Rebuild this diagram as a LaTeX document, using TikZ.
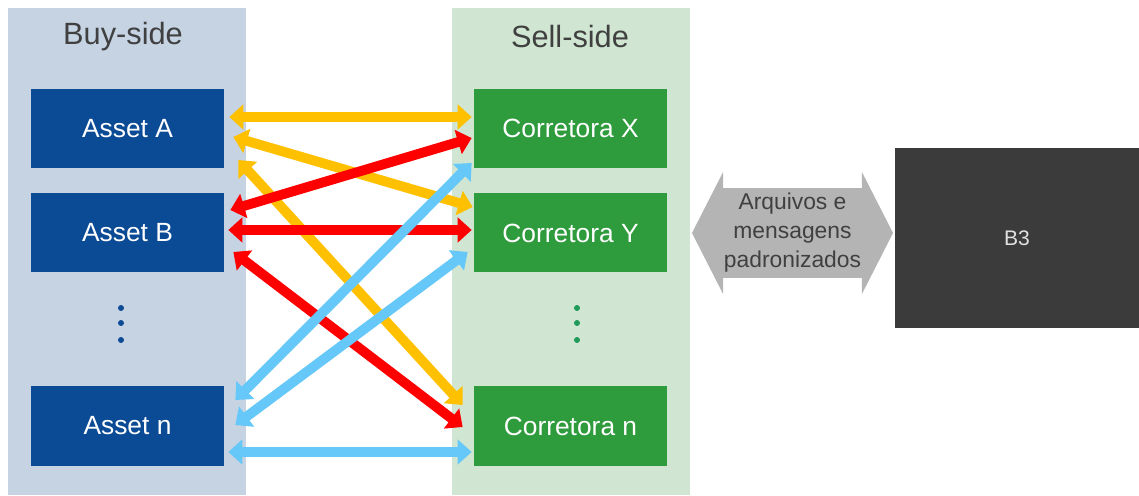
\documentclass[tikz,border=0pt]{standalone}
\usepackage{fontspec}
\setmainfont{Liberation Sans}
\usetikzlibrary{arrows.meta, shapes.arrows}

\definecolor{buybg}{HTML}{C5D3E3}
\definecolor{sellbg}{HTML}{D0E6D2}
\definecolor{assetblue}{HTML}{0B4A94}
\definecolor{brokergreen}{HTML}{2E9B3C}
\definecolor{dotgreen}{HTML}{1F9A5A}
\definecolor{linkyellow}{HTML}{FFC000}
\definecolor{linkred}{HTML}{FF0000}
\definecolor{linkblue}{HTML}{66C8F8}
\definecolor{labelgray}{HTML}{404040}
\definecolor{msggray}{HTML}{B4B4B4}
\definecolor{bthreegray}{HTML}{3B3B3B}

\begin{document}
\begin{tikzpicture}[
    asset/.style={fill=assetblue, text=white, minimum width=3.86cm, minimum height=1.58cm, font=\fontsize{15}{18}\selectfont},
    broker/.style={asset, fill=brokergreen},
    link/.style={line width=5.6pt, {Triangle[length=8pt,width=14pt]}-{Triangle[length=8pt,width=14pt]}},
    side/.style={text=labelgray, font=\fontsize{17.5}{21}\selectfont}
]
    \useasboundingbox (0,0) rectangle (22.78,9.9);
    \fill[buybg] (0.16,0) rectangle (4.92,9.74);
    \fill[sellbg] (9.04,0) rectangle (13.8,9.74);
    \node[side] (buy) at (2.46,9.16) {Buy-side};
    \node[side] (sell) at (11.4,9.16) {Sell-side};

    \node[asset] (assetA) at (2.55,7.33) {Asset A};
    \node[asset] (assetB) at (2.55,5.24) {Asset B};
    \node[asset] (assetN) at (2.55,1.38) {Asset n};
    \node[broker] (corX) at (11.41,7.33) {Corretora X};
    \node[broker] (corY) at (11.41,5.24) {Corretora Y};
    \node[broker] (corN) at (11.41,1.38) {Corretora n};

    \foreach \y in {3.74,3.44,3.10} {
        \fill[assetblue] (2.42,\y) circle (0.06);
        \fill[dotgreen] (11.54,\y) circle (0.06);
    }

    % yellow links from Asset A
    \draw[link, linkyellow] ([shift={(0.1,0.23)}]assetA.east) -- ([shift={(-0.04,0.23)}]corX.west);
    \draw[link, linkyellow] ([shift={(0.18,-0.17)}]assetA.east) -- ([shift={(-0.02,0.52)}]corY.west);
    \draw[link, linkyellow] ([shift={(0.28,-0.63)}]assetA.east) -- ([shift={(-0.22,0.42)}]corN.west);
    % red links from Asset B
    \draw[link, linkred] ([shift={(0.12,0.46)}]assetB.east) -- ([shift={(-0.04,-0.19)}]corX.west);
    \draw[link, linkred] ([shift={(0.08,0.06)}]assetB.east) -- ([shift={(-0.04,0.06)}]corY.west);
    \draw[link, linkred] ([shift={(0.18,-0.38)}]assetB.east) -- ([shift={(-0.22,-0.02)}]corN.west);
    % blue links from Asset n
    \draw[link, linkblue] ([shift={(0.22,0.52)}]assetN.east) -- ([shift={(-0.04,-0.69)}]corX.west);
    \draw[link, linkblue] ([shift={(0.22,0.02)}]assetN.east) -- ([shift={(-0.12,-0.38)}]corY.west);
    \draw[link, linkblue] ([shift={(0.08,-0.52)}]assetN.east) -- ([shift={(-0.04,-0.52)}]corN.west);

    \node[double arrow, fill=msggray, text=labelgray, align=center, double arrow tip angle=126,
        double arrow head extend=0.29cm, minimum width=2.44cm, minimum height=4.02cm, inner sep=0pt,
        font=\fontsize{13}{16.5}\selectfont] (msg) at (15.85,5.24) {Arquivos e\\mensagens\\padronizados};
    \node[fill=bthreegray, text=white!88!black, minimum width=4.88cm, minimum height=3.6cm,
        font=\fontsize{12}{14}\selectfont] (bthree) at (20.34,5.14) {B3};
\end{tikzpicture}
\end{document}
